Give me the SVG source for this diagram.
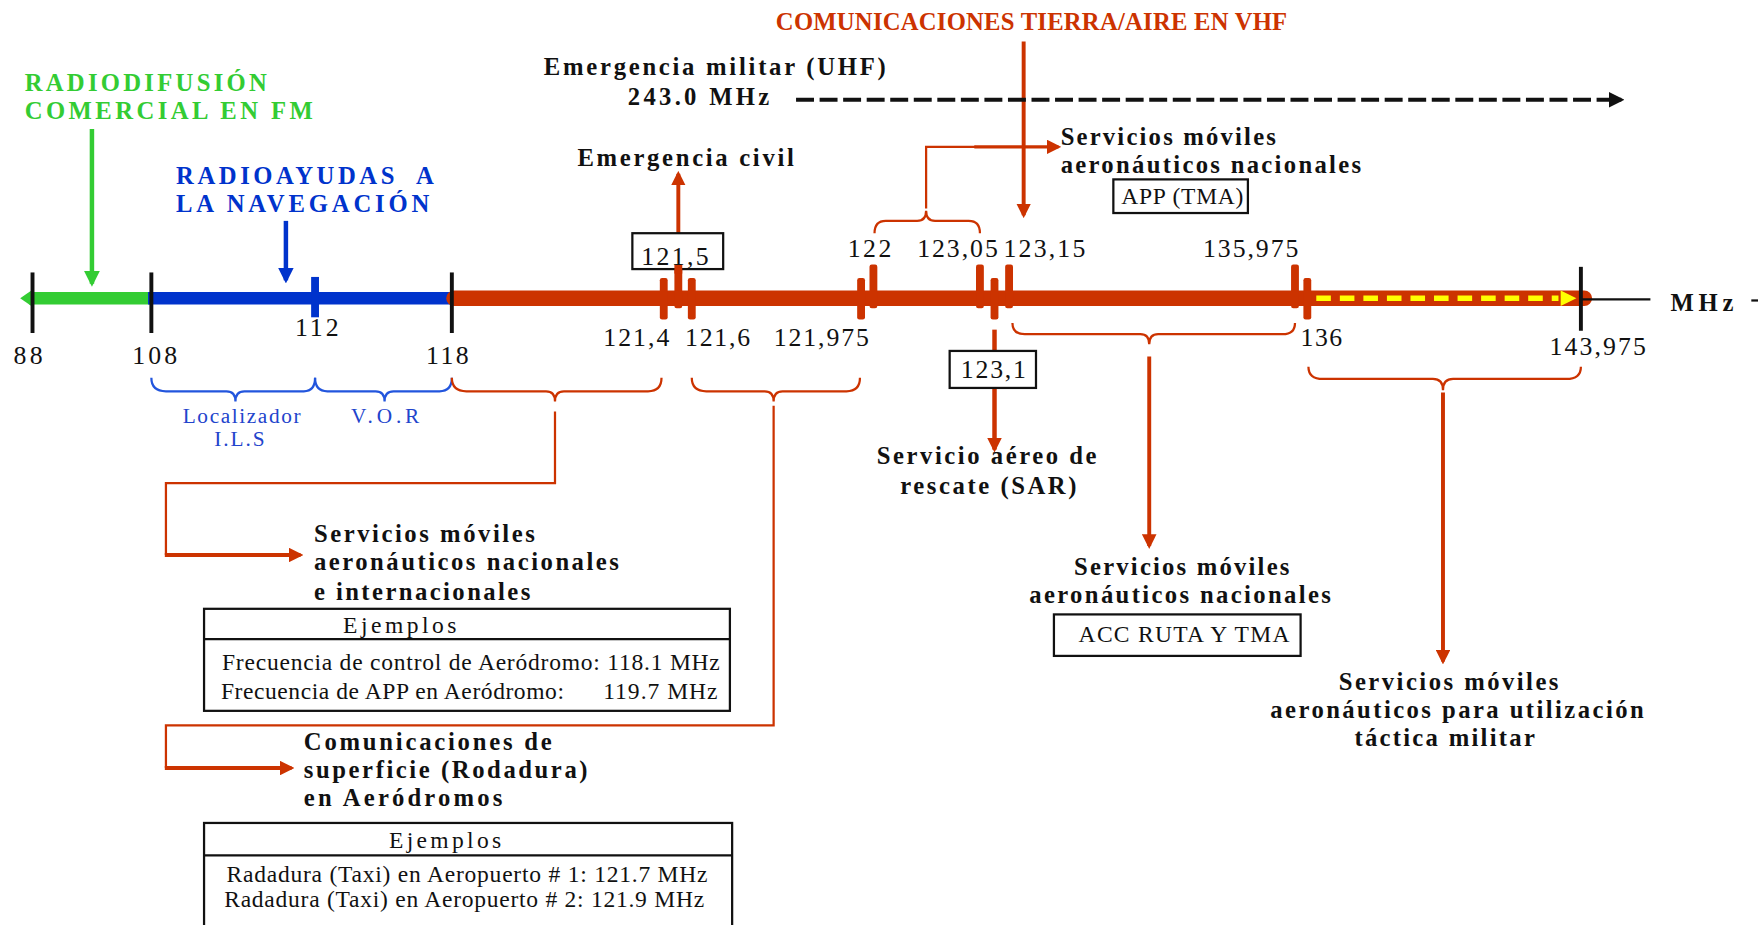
<svg xmlns="http://www.w3.org/2000/svg" width="1758" height="925" viewBox="0 0 1758 925">
<defs>
<style>
.b{font-family:"Liberation Serif",serif;font-weight:bold;font-size:22px;fill:#111}
.n{font-family:"Liberation Serif",serif;font-size:23px;fill:#111}
.r{font-family:"Liberation Serif",serif;font-size:21px;fill:#111}
.cap{font-family:"Liberation Serif",serif;font-weight:bold;font-size:22px}
.lb{font-family:"Liberation Serif",serif;font-size:19px;fill:#2244cc}
.rl{stroke:#cc3300;fill:none}
.box{fill:#fff;stroke:#111;stroke-width:2}
.tk{fill:#cc3300}
</style>
<marker id="ar" viewBox="0 0 10 10" refX="8" refY="5" markerWidth="13" markerHeight="13" markerUnits="userSpaceOnUse" orient="auto"><path d="M0,0 L10,5 L0,10 z" fill="#cc3300"/></marker>
<marker id="ag" viewBox="0 0 10 10" refX="8" refY="5" markerWidth="14" markerHeight="14" markerUnits="userSpaceOnUse" orient="auto"><path d="M0,0 L10,5 L0,10 z" fill="#33cc33"/></marker>
<marker id="ab" viewBox="0 0 10 10" refX="8" refY="5" markerWidth="14" markerHeight="14" markerUnits="userSpaceOnUse" orient="auto"><path d="M0,0 L10,5 L0,10 z" fill="#0033cc"/></marker>
<marker id="ak" viewBox="0 0 10 10" refX="8" refY="5" markerWidth="14" markerHeight="14" markerUnits="userSpaceOnUse" orient="auto"><path d="M0,0 L10,5 L0,10 z" fill="#111"/></marker>
</defs>
<rect width="1758" height="925" fill="#fff"/>
<g transform="scale(1.1212)">

<g id="axis">
<line x1="26" y1="266" x2="134" y2="266" stroke="#33cc33" stroke-width="11"/>
<path d="M18,266 L28,259 L28,273 z" fill="#33cc33"/>
<line x1="132" y1="266" x2="405" y2="266" stroke="#0033cc" stroke-width="11"/>
<line x1="405" y1="266" x2="1413" y2="266" stroke="#cc3300" stroke-width="14" stroke-linecap="round"/>
<line x1="1174" y1="266" x2="1390" y2="266" stroke="#ffff00" stroke-width="5" stroke-dasharray="13 8"/>
<path d="M1392,259 L1406,266 L1392,273 z" fill="#ffff00"/>
<line x1="1410" y1="267" x2="1472" y2="267" stroke="#111" stroke-width="2"/>
<line x1="1562" y1="268" x2="1568" y2="268" stroke="#111" stroke-width="2"/>
<g stroke="#111" stroke-width="3.5">
<line x1="29" y1="243" x2="29" y2="297"/>
<line x1="135" y1="243" x2="135" y2="297"/>
<line x1="403" y1="243" x2="403" y2="297"/>
<line x1="1410" y1="238" x2="1410" y2="295"/>
</g>
<rect x="277.5" y="247" width="7" height="36" fill="#0033cc"/>
<g class="tk">
<rect x="588.5" y="248" width="7" height="37" rx="2"/>
<rect x="601.5" y="236" width="7" height="39" rx="2"/>
<rect x="613.5" y="248" width="7" height="37" rx="2"/>
<rect x="764.5" y="248" width="7" height="37" rx="2"/>
<rect x="775.5" y="236" width="7" height="39" rx="2"/>
<rect x="870.5" y="236" width="7" height="39" rx="2"/>
<rect x="883.5" y="248" width="7" height="37" rx="2"/>
<rect x="896.5" y="236" width="7" height="39" rx="2"/>
<rect x="1151.5" y="236" width="7" height="39" rx="2"/>
<rect x="1162.5" y="248" width="7" height="37" rx="2"/>
</g>
<text class="b" x="1490" y="277" textLength="56">MHz</text>
</g>

<g id="scale-labels">
<text class="n" x="12" y="325" textLength="26">88</text>
<text class="n" x="118" y="325" textLength="40">108</text>
<text class="n" x="263" y="300" textLength="39">112</text>
<text class="n" x="380" y="325" textLength="38">118</text>
<text class="n" x="756" y="229" textLength="39">122</text>
<text class="n" x="818" y="229" textLength="72">123,05</text>
<text class="n" x="895" y="229" textLength="73">123,15</text>
<text class="n" x="1073" y="229" textLength="85">135,975</text>
<text class="n" x="538" y="309" textLength="59">121,4</text>
<text class="n" x="611" y="309" textLength="58">121,6</text>
<text class="n" x="690" y="309" textLength="85">121,975</text>
<text class="n" x="1160" y="309" textLength="37">136</text>
<text class="n" x="1382" y="317" textLength="86">143,975</text>
</g>

<g id="connectors">
<line x1="82" y1="115" x2="82" y2="253" stroke="#33cc33" stroke-width="4" marker-end="url(#ag)"/>
<line x1="255" y1="197" x2="255" y2="250" stroke="#0033cc" stroke-width="4" marker-end="url(#ab)"/>
<line x1="913" y1="37" x2="913" y2="192" class="rl" stroke-width="3.5" marker-end="url(#ar)"/>
<line x1="710" y1="89" x2="1446" y2="89" stroke="#111" stroke-width="3.5" stroke-dasharray="16 5" marker-end="url(#ak)"/>
<line x1="605" y1="208" x2="605" y2="155" class="rl" stroke-width="3.5" marker-end="url(#ar)"/>
<path class="rl" stroke-width="2" d="M780,208 Q780,197 790,197 L818,197 Q826,197 826,188 Q826,197 834,197 L864,197 Q874,197 874,208"/>
<path class="rl" stroke-width="2" d="M826,186 L826,131 L870,131"/>
<line x1="869" y1="131" x2="944" y2="131" class="rl" stroke-width="3" marker-end="url(#ar)"/>
<line x1="887" y1="294" x2="887" y2="313" class="rl" stroke-width="4"/>
<line x1="887" y1="346" x2="887" y2="401" class="rl" stroke-width="4" marker-end="url(#ar)"/>
<path class="rl" stroke-width="2" d="M903,288 Q903,298 914,298 L1017,298 Q1025,298 1025,307 Q1025,298 1033,298 L1144,298 Q1155,298 1155,288"/>
<line x1="1025" y1="318" x2="1025" y2="487" class="rl" stroke-width="3.5" marker-end="url(#ar)"/>
<path class="rl" stroke-width="2" d="M1167,327 Q1167,338 1180,338 L1278,338 Q1287,338 1287,348 Q1287,338 1296,338 L1397,338 Q1410,338 1410,327"/>
<line x1="1287" y1="350" x2="1287" y2="590" class="rl" stroke-width="3.5" marker-end="url(#ar)"/>
<g fill="none" stroke="#2255dd" stroke-width="2">
<path d="M135,337 Q135,349 148,349 L202,349 Q210,349 210,358 Q210,349 218,349 L271,349 Q281,349 281,337"/>
<path d="M281,337 Q281,349 292,349 L335,349 Q343,349 343,358 Q343,349 351,349 L392,349 Q403,349 403,337"/>
</g>
<path class="rl" stroke-width="2" d="M403,337 Q403,349 416,349 L487,349 Q495,349 495,358 Q495,349 503,349 L578,349 Q590,349 590,337"/>
<path class="rl" stroke-width="2" d="M495,367 L495,431 L148,431 L148,495"/>
<line x1="147" y1="495" x2="268" y2="495" class="rl" stroke-width="3.5" marker-end="url(#ar)"/>
<path class="rl" stroke-width="2" d="M617,337 Q617,349 630,349 L682,349 Q690,349 690,358 Q690,349 698,349 L755,349 Q767,349 767,337"/>
<path class="rl" stroke-width="2" d="M690,362 L690,647 L148,647 L148,685"/>
<line x1="147" y1="685" x2="260" y2="685" class="rl" stroke-width="3.5" marker-end="url(#ar)"/>
</g>

<g id="n-vhf">
<text class="cap" x="692" y="27" fill="#cc3300" textLength="456">COMUNICACIONES TIERRA/AIRE EN VHF</text>
</g>
<g id="n-fm">
<text class="cap" x="22" y="81" fill="#33cc33" textLength="216">RADIODIFUSIÓN</text>
<text class="cap" x="22" y="106" fill="#33cc33" textLength="257">COMERCIAL EN FM</text>
</g>
<g id="n-nav">
<text class="cap" x="157" y="164" fill="#0033cc" textLength="230" xml:space="preserve">RADIOAYUDAS  A</text>
<text class="cap" x="157" y="189" fill="#0033cc" textLength="226">LA NAVEGACIÓN</text>
</g>
<g id="n-uhf">
<text class="b" x="485" y="67" textLength="305">Emergencia militar (UHF)</text>
<text class="b" x="560" y="94" textLength="126">243.0 MHz</text>
</g>
<g id="n-civil">
<text class="b" x="515" y="148" textLength="193">Emergencia civil</text>
<rect class="box" x="564" y="208" width="81" height="32"/>
<rect x="601.5" y="236" width="7" height="8" fill="#cc3300"/>
<text class="n" x="572" y="236" textLength="60">121,5</text>
</g>
<g id="n-app">
<text class="b" x="946" y="129" textLength="192">Servicios móviles</text>
<text class="b" x="946" y="154" textLength="268">aeronáuticos nacionales</text>
<rect class="box" x="993" y="160" width="120" height="30"/>
<text class="r" x="1000" y="182" textLength="109">APP (TMA)</text>
</g>
<g id="n-sar">
<rect class="box" x="847" y="313" width="77" height="33"/>
<text class="n" x="857" y="337" textLength="58">123,1</text>
<text class="b" x="782" y="414" textLength="196">Servicio aéreo de</text>
<text class="b" x="803" y="441" textLength="157">rescate (SAR)</text>
</g>
<g id="n-ils">
<text class="lb" x="163" y="377" textLength="105">Localizador</text>
<text class="lb" x="191" y="398" textLength="45">I.L.S</text>
<text class="lb" x="313" y="377" textLength="61">V.O.R</text>
</g>
<g id="n-int">
<text class="b" x="280" y="483" textLength="197">Servicios móviles</text>
<text class="b" x="280" y="508" textLength="272">aeronáuticos nacionales</text>
<text class="b" x="280" y="535" textLength="193">e internacionales</text>
<rect class="box" x="182" y="543" width="469" height="91"/>
<line x1="182" y1="570" x2="651" y2="570" stroke="#111" stroke-width="2"/>
<text class="r" x="306" y="565" textLength="101">Ejemplos</text>
<text class="r" x="198" y="598" textLength="444">Frecuencia de control de Aeródromo: 118.1 MHz</text>
<text class="r" x="197" y="623" textLength="306">Frecuencia de APP en Aeródromo:</text>
<text class="r" x="538" y="623" textLength="102">119.7 MHz</text>
</g>
<g id="n-rod">
<text class="b" x="271" y="669" textLength="221">Comunicaciones de</text>
<text class="b" x="271" y="694" textLength="253">superficie (Rodadura)</text>
<text class="b" x="271" y="719" textLength="177">en Aeródromos</text>
<rect class="box" x="182" y="734" width="471" height="110"/>
<line x1="182" y1="763" x2="653" y2="763" stroke="#111" stroke-width="2"/>
<text class="r" x="347" y="756" textLength="100">Ejemplos</text>
<text class="r" x="202" y="787" textLength="429">Radadura (Taxi) en Aeropuerto # 1: 121.7 MHz</text>
<text class="r" x="200" y="809" textLength="428">Radadura (Taxi) en Aeropuerto # 2: 121.9 MHz</text>
</g>
<g id="n-acc">
<text class="b" x="958" y="513" textLength="192">Servicios móviles</text>
<text class="b" x="918" y="538" textLength="269">aeronáuticos nacionales</text>
<rect class="box" x="940" y="548" width="220" height="37"/>
<text class="r" x="962" y="573" textLength="188">ACC RUTA Y TMA</text>
</g>
<g id="n-mil">
<text class="b" x="1194" y="615" textLength="196">Servicios móviles</text>
<text class="b" x="1133" y="640" textLength="333">aeronáuticos para utilización</text>
<text class="b" x="1208" y="665" textLength="161">táctica militar</text>
</g>
</g>
</svg>
